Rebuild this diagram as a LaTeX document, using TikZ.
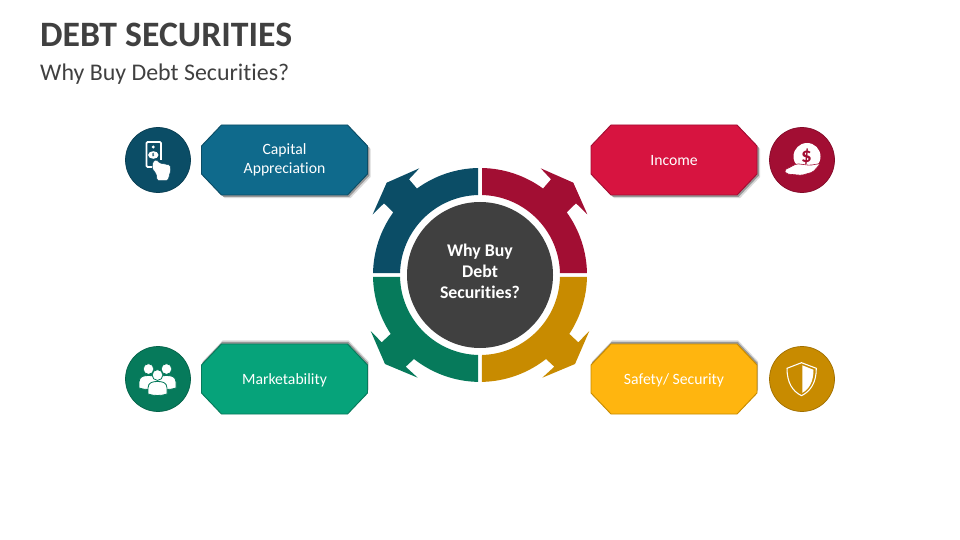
\documentclass[tikz,border=0pt]{standalone}
\usepackage{fontspec}
\setmainfont{Carlito}[Ligatures=NoCommon]
\usetikzlibrary{shapes,shadows}
\definecolor{titleColor}{HTML}{404040}
\definecolor{capColor}{HTML}{0F6A8C}
\definecolor{capDark}{HTML}{0B4D66}
\definecolor{incColor}{HTML}{D71440}
\definecolor{incDark}{HTML}{A20E33}
\definecolor{mktColor}{HTML}{06A37A}
\definecolor{mktDark}{HTML}{067A5B}
\definecolor{safColor}{HTML}{FFB50F}
\definecolor{safDark}{HTML}{C88B00}
\tikzset{
  labelbox/.style={line width=0.8pt,line join=miter},
  labeltext/.style={inner sep=0pt,text=white,align=center,font=\fontsize{13.4}{16.2}\selectfont},
  shadowlow/.style={drop shadow={shadow xshift=2.6pt,shadow yshift=-2.6pt,opacity=.15,fill=black},drop shadow={shadow xshift=1.5pt,shadow yshift=-1.5pt,opacity=.3,fill=black}},
  shadowhigh/.style={drop shadow={shadow xshift=1pt,shadow yshift=3pt,opacity=.15,fill=black},drop shadow={shadow xshift=.6pt,shadow yshift=1.8pt,opacity=.3,fill=black}},
  iconcircle/.style={circle,minimum size=1.95cm,line width=0.6pt}
}
\newcommand{\topseg}[1]{\fill[#1] (88.93:107) arc[start angle=88.93,end angle=53.9,radius=107] -- (71,95.7) -- (60.7,106.7) -- (93.3,92.3) -- (107.3,60.7) -- (96,71.7) -- (86.7,62.7) -- (35.9:107) arc[start angle=35.9,end angle=1.07,radius=107] -- (1.43:80) arc[start angle=1.43,end angle=88.57,radius=80] -- cycle;}
\newcommand{\botseg}[1]{\fill[#1] (-1.07:107) arc[start angle=-1.07,end angle=-33.4,radius=107] -- (98.3,-67.3) -- (109.3,-56) -- (95,-89) -- (62.3,-102.7) -- (74.3,-91.7) -- (66,-84) arc[start angle=-51.8,end angle=-88.93,radius=107] -- (-88.57:80) arc[start angle=-88.57,end angle=-1.43,radius=80] -- cycle;}
\newcommand{\octbox}[3]{\path[labelbox,#3] (#1-63,#2-35) -- (#1+63,#2-35) -- (#1+83,#2-14) -- (#1+83,#2+14) -- (#1+63,#2+35) -- (#1-63,#2+35) -- (#1-83,#2+14) -- (#1-83,#2-14) -- cycle;}
\newcommand{\person}[3]{\fill[white,draw=#3,line width=0.7pt] (#1,#2) circle (5.4);
  \fill[white,draw=#3,line width=0.7pt] (#1-9.5,#2+19) -- (#1-9.5,#2+13) .. controls (#1-9.5,#2+7) and (#1-4,#2+6.5) .. (#1,#2+6.5) .. controls (#1+4,#2+6.5) and (#1+9.5,#2+7) .. (#1+9.5,#2+13) -- (#1+9.5,#2+19) .. controls (#1+4,#2+21) and (#1-4,#2+21) .. (#1-9.5,#2+19) -- cycle;}
\begin{document}
\begin{tikzpicture}[x=0.03cm,y=-0.03cm]
\useasboundingbox (0,0) rectangle (960,540);
\node[anchor=west,inner sep=0pt,text=titleColor,font=\fontsize{30.5}{34}\selectfont\bfseries] (title) at (40,35) {DEBT SECURITIES};
\node[anchor=west,inner sep=0pt,text=titleColor,font=\fontsize{20.4}{24}\selectfont] (subtitle) at (40,74.5) {Why Buy Debt Securities?};
% ring
\begin{scope}[shift={(480,275)},yscale=-1]
\topseg{incDark}
\topseg{capDark,xscale=-1}
\botseg{safDark}
\botseg{mktDark,xscale=-1}
\end{scope}
\node[circle,fill=titleColor,minimum size=4.38cm,inner sep=0pt] (centre) at (480,275) {};
\node[inner sep=0pt,text=white,align=center,font=\fontsize{15.2}{17.9}\selectfont\bfseries] (centretext) at (480,271.5) {Why Buy\\Debt\\Securities?};
% boxes
\octbox{284.5}{160}{shadowlow,fill=capColor,draw=capDark}
\octbox{674}{160}{shadowlow,fill=incColor,draw=incDark}
\octbox{284.5}{379}{shadowhigh,fill=mktColor,draw=mktDark}
\octbox{674}{379}{shadowhigh,fill=safColor,draw=safDark}
\node[labeltext] (capital) at (284.5,159.5) {Capital\\Appreciation};
\node[labeltext] (income) at (674,161) {Income};
\node[labeltext] (market) at (284.5,380) {Marketability};
\node[labeltext] (safety) at (674,380) {Safety/ Security};
% icon circles
\node[iconcircle,fill=capDark,draw=capDark!80!black] (capicon) at (158,160) {};
\node[iconcircle,fill=incDark,draw=incDark!80!black] (incicon) at (802,160) {};
\node[iconcircle,fill=mktDark,draw=mktDark!80!black] (mkticon) at (158,379) {};
\node[iconcircle,fill=safDark,draw=safDark!80!black] (saficon) at (802,379) {};
% bill and hand
\draw[white,line width=1.5pt,rounded corners=1pt] (153,167) -- (146.5,167) -- (146.5,142) -- (161,142) -- (161,160);
\fill[white] (153.3,147) circle (1.6);
\fill[white] (153.3,155) ellipse (5.2 and 3.8);
\node[text=capDark,inner sep=0pt,font=\fontsize{4.5}{4.5}\selectfont\bfseries] (capsign) at (153.3,155) {\$};
\fill[white,draw=capDark,line width=0.4pt,rounded corners=1.2pt] (153,161.5) -- (156.5,159.5) -- (159.5,163) -- (170,165) -- (170.8,170) -- (168,180.5) -- (157,180.5) -- (156.5,174.5) -- (152,168) -- cycle;
% coin and hand
\fill[white] (807,156.5) circle (13.5);
\node[text=incDark,inner sep=0pt,font=\fontsize{18}{18}\selectfont\bfseries] (incsign) at (806.5,156.5) {\$};
\fill[white,draw=incDark,line width=0.5pt,rounded corners=1.5pt] (784,170.3) -- (796.7,163.7) -- (810,165.3) -- (820.5,163.5) -- (813,172) -- (801.7,175.3) -- (786.7,174) -- cycle;
% people
\person{148.5}{369}{mktDark}
\person{166.5}{369}{mktDark}
\person{157.5}{375}{mktDark}
% shield
\fill[white] (802.3,365.3) -- (813.5,369.8) .. controls (813.5,381) and (809.5,389) .. (802.3,392.8) -- cycle;
\draw[white,line width=0.9pt,line join=round] (801.5,362.7) -- (787,368.3) .. controls (787,382) and (792,391) .. (801.5,395.7) .. controls (811,391) and (816.3,382) .. (816.3,368.3) -- cycle;
\end{tikzpicture}
\end{document}
